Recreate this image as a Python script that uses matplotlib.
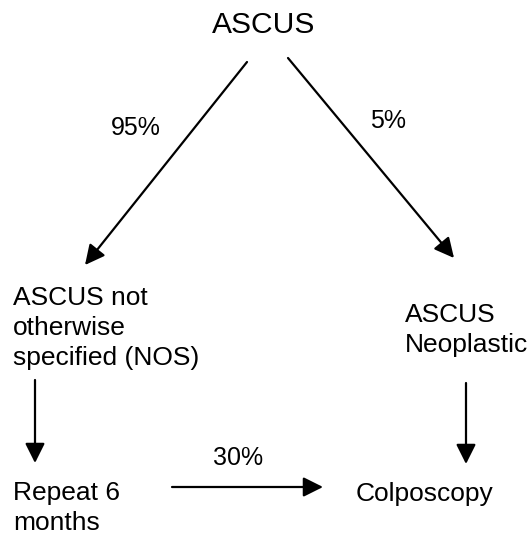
import matplotlib.pyplot as plt

# flow chart content
nodes = ["ASCUS",
         "ASCUS not\notherwise\nspecified (NOS)",
         "ASCUS\nNeoplastic",
         "Repeat 6\nmonths",
         "Colposcopy"]
edges = [(0, 1), (0, 2), (1, 3), (2, 4), (3, 4)]
edge_labels = ["95%", "5%", "", "", "30%"]

# layout in pixel units (x, baseline of first line)
node_pos = [(264, 33), (13, 305), (405, 322), (13, 500), (356, 501)]
node_ha = ["center", "left", "left", "left", "left"]
node_size = [21.6, 19, 19, 19, 19]
line_step = 30
arrow_pts = [((247, 62), (85, 265)),
             ((288, 58), (454, 258)),
             ((35, 380), (35, 463)),
             ((466, 383), (466, 464)),
             ((172, 487), (323, 487))]
label_pos = [(111, 135), (370, 128), None, None, (213, 465)]


def main():
    plt.rcParams['font.family'] = ['Liberation Sans', 'DejaVu Sans']
    fig = plt.figure(figsize=(5.29, 5.39), dpi=100)
    ax = fig.add_axes([0, 0, 1, 1])
    ax.set_xlim(0, 529)
    ax.set_ylim(539, 0)
    ax.axis('off')

    for i, txt in enumerate(nodes):
        x, y = node_pos[i]
        for k, line in enumerate(txt.split("\n")):
            ax.text(x, y + k * line_step, line, ha=node_ha[i], va='baseline',
                    fontsize=node_size[i])

    for i, (a, b) in enumerate(edges):
        start, tip = arrow_pts[i]
        ax.annotate('', xy=tip, xytext=start,
                    arrowprops=dict(arrowstyle='-|>,head_length=0.6,head_width=0.3',
                                    mutation_scale=20, lw=1.6, color='black',
                                    shrinkA=0, shrinkB=0))
        if edge_labels[i]:
            lx, ly = label_pos[i]
            ax.text(lx, ly, edge_labels[i], ha='left', va='baseline', fontsize=18)

    fig.savefig('out.png', dpi=100)


if __name__ == "__main__":
    main()
